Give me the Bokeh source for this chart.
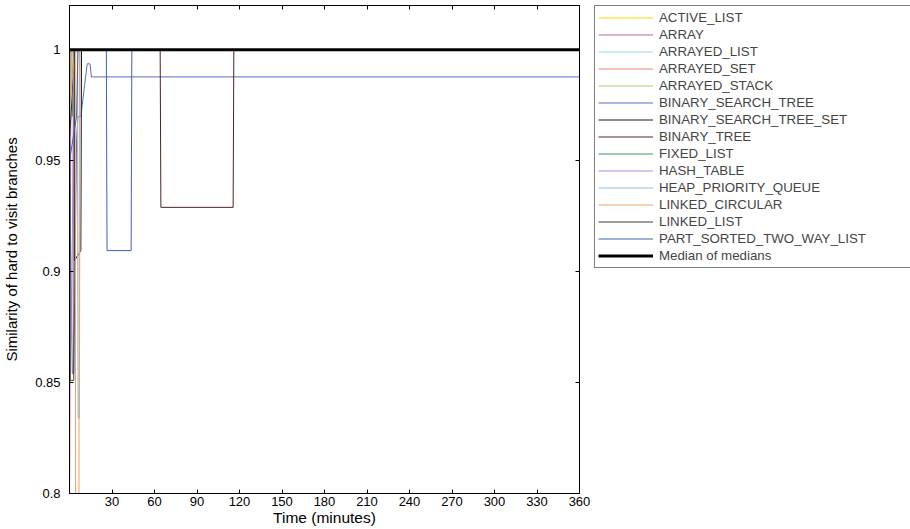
from bokeh.plotting import figure
from bokeh.models import Range1d, FixedTicker, Legend, LegendItem, LinearAxis
from bokeh.layouts import row
from bokeh.embed import file_html
from bokeh.resources import INLINE

# ---- data ----
names = ["ACTIVE_LIST", "ARRAY", "ARRAYED_LIST", "ARRAYED_SET", "ARRAYED_STACK",
         "BINARY_SEARCH_TREE", "BINARY_SEARCH_TREE_SET", "BINARY_TREE", "FIXED_LIST",
         "HASH_TABLE", "HEAP_PRIORITY_QUEUE", "LINKED_CIRCULAR", "LINKED_LIST",
         "PART_SORTED_TWO_WAY_LIST"]
colors = ["#f2dc00", "#c060b0", "#8fdcee", "#f08478", "#a2d270",
          "#5c6cc4", "#1a1a1a", "#4e2222", "#3e9a5c",
          "#b486e0", "#8ec0ea", "#f2a060", "#3c3c28",
          "#3d62b4"]
median_name = "Median of medians"

t_active_list = [0, 1, 360]
v_active_list = [0.975, 1.0, 1.0]
t_array = [0, 1, 360]
v_array = [0.78, 1.0, 1.0]
t_arrayed_list = [0, 2, 360]
v_arrayed_list = [0.96, 1.0, 1.0]
t_arrayed_set = [0, 1.5, 360]
v_arrayed_set = [0.985, 1.0, 1.0]
t_arrayed_stack = [0, 2, 360]
v_arrayed_stack = [0.97, 1.0, 1.0]
t_bst = [0, 2, 3, 5, 6, 8, 12.5, 14.5, 15.5, 360]
v_bst = [0.95, 0.854, 0.854, 0.96, 0.97, 0.97, 0.9937, 0.9937, 0.9878, 0.9878]
t_bst_set = [0, 3, 3.5, 8, 8.5, 360]
v_bst_set = [1.0, 1.0, 0.905, 0.9095, 1.0, 1.0]
t_binary_tree = [0, 2, 3, 64, 64.5, 115.5, 116, 360]
v_binary_tree = [0.96, 0.98, 1.0, 1.0, 0.929, 0.929, 1.0, 1.0]
t_fixed_list = [0, 2, 3, 360]
v_fixed_list = [0.97, 0.97, 1.0, 1.0]
t_hash_table = [0, 1.5, 3, 360]
v_hash_table = [0.9, 0.87, 1.0, 1.0]
t_heap = [0, 5.5, 6, 7, 7.5, 360]
v_heap = [1.0, 1.0, 0.834, 0.834, 1.0, 1.0]
t_linked_circular = [0, 4, 4.5, 6.5, 7, 360]
v_linked_circular = [0.975, 1.0, 0.7, 0.7, 1.0, 1.0]
t_linked_list = [0, 0.5, 3, 3.5, 360]
v_linked_list = [0.99, 0.851, 0.851, 1.0, 1.0]
t_part_sorted = [0, 5, 6, 26, 26.5, 43.5, 44, 360]
v_part_sorted = [0.95, 0.97, 1.0, 1.0, 0.9095, 0.9095, 1.0, 1.0]
t_median = [0, 360]
v_median = [1.0, 1.0]

times = [t_active_list, t_array, t_arrayed_list, t_arrayed_set, t_arrayed_stack,
         t_bst, t_bst_set, t_binary_tree, t_fixed_list, t_hash_table, t_heap,
         t_linked_circular, t_linked_list, t_part_sorted]
values = [v_active_list, v_array, v_arrayed_list, v_arrayed_set, v_arrayed_stack,
          v_bst, v_bst_set, v_binary_tree, v_fixed_list, v_hash_table, v_heap,
          v_linked_circular, v_linked_list, v_part_sorted]

x_ticks = [30, 60, 90, 120, 150, 180, 210, 240, 270, 300, 330, 360]
y_ticks = [0.8, 0.85, 0.9, 0.95, 1.0]
y_tick_labels = {0.8: "0.8", 0.85: "0.85", 0.9: "0.9", 0.95: "0.95", 1.0: "1"}

FONT = "Liberation Sans"

# ---------------- main chart ----------------
p = figure(frame_width=510, frame_height=488, output_backend="svg", toolbar_location=None,
           x_range=Range1d(0, 360), y_range=Range1d(0.8, 1.02),
           min_border_left=66, min_border_top=5, min_border_bottom=36, min_border_right=15,
           background_fill_color="white", border_fill_color="white")
p.grid.visible = False
p.outline_line_color = "black"
p.outline_line_width = 1

for c, t, v in zip(colors, times, values):
    p.line(t, v, line_color=c, line_width=1)
p.line(t_median, v_median, line_color="black", line_width=3)

for ax in (p.xaxis[0], p.yaxis[0]):
    ax.major_tick_in = 4
    ax.major_tick_out = 0
    ax.minor_tick_in = 0
    ax.minor_tick_out = 0
    ax.axis_line_color = "black"
    ax.major_tick_line_color = "black"
    ax.major_label_text_font = FONT
    ax.major_label_text_font_size = "13px"
    ax.major_label_text_color = "black"
    ax.axis_label_text_font = FONT
    ax.axis_label_text_font_style = "normal"
    ax.axis_label_text_color = "black"

p.xaxis.axis_label_text_font_size = "15.5px"
p.yaxis.axis_label_text_font_size = "15px"
p.xaxis.ticker = FixedTicker(ticks=x_ticks)
p.yaxis.ticker = FixedTicker(ticks=y_ticks)
p.yaxis.major_label_overrides = y_tick_labels
p.xaxis.axis_label = "Time (minutes)"
p.yaxis.axis_label = "Similarity of hard to visit branches"
p.xaxis.major_label_standoff = 3
p.xaxis.axis_label_standoff = 0
p.yaxis.major_label_standoff = 9
p.yaxis.axis_label_standoff = 12

# box-style ticks on the top and right edges (no labels)
top_axis = LinearAxis(ticker=FixedTicker(ticks=x_ticks), major_tick_in=4, major_tick_out=0,
                      minor_tick_in=0, minor_tick_out=0, major_label_text_font_size="1px",
                      major_label_text_color=None, major_label_standoff=0,
                      axis_line_color="black")
right_axis = LinearAxis(ticker=FixedTicker(ticks=y_ticks), major_tick_in=4, major_tick_out=0,
                        minor_tick_in=0, minor_tick_out=0, major_label_text_font_size="1px",
                        major_label_text_color=None, major_label_standoff=0,
                        axis_line_color="black")
p.add_layout(top_axis, "above")
p.add_layout(right_axis, "right")

# ---------------- legend panel ----------------
# same series drawn again, kept outside this panel's visible range, so the legend has real glyphs
q = figure(frame_width=319, frame_height=488, output_backend="svg", toolbar_location=None,
           x_range=Range1d(0, 360), y_range=Range1d(2, 3),
           min_border_left=0, min_border_top=5, min_border_bottom=36, min_border_right=0,
           background_fill_color="white", border_fill_color="white")
q.grid.visible = False
q.axis.visible = False
q.outline_line_color = None

items = []
for name, c, t, v in zip(names, colors, times, values):
    r = q.line(t, v, line_color=c, line_width=1)
    items.append(LegendItem(label=name, renderers=[r]))
rm = q.line(t_median, v_median, line_color="black", line_width=3)
items.append(LegendItem(label=median_name, renderers=[rm]))

legend = Legend(items=items, location="top_left", margin=0,
                padding=3, spacing=0, label_height=17, glyph_height=17, glyph_width=55,
                label_standoff=6, label_width=250,
                label_text_font=FONT, label_text_font_size="13.3px",
                border_line_color="black", border_line_width=1,
                background_fill_color="white", background_fill_alpha=1.0)
q.add_layout(legend, "center")

layout = row(p, q, spacing=0)
open("out.html", "w").write(file_html(layout, INLINE))
